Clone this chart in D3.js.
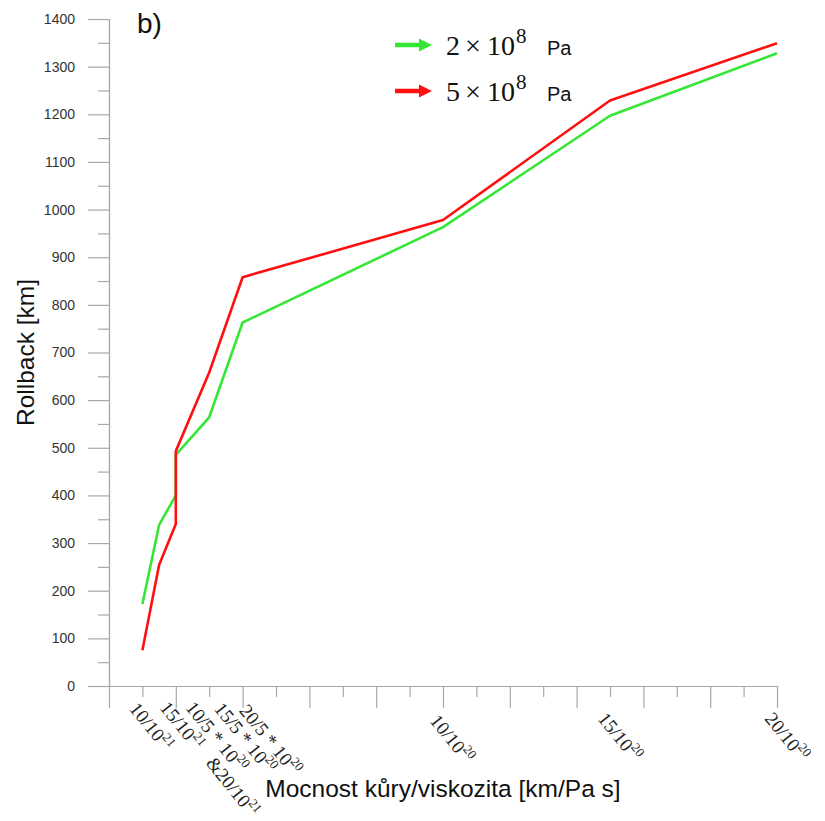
<!DOCTYPE html>
<html>
<head>
<meta charset="utf-8">
<script src="https://cdn.jsdelivr.net/npm/d3@7"></script>
<style>
  body { margin: 0; background: #fff; }
  svg { display: block; }
</style>
</head>
<body>
<svg id="chart" width="825" height="821"></svg>
<script>
// Crust thickness / viscosity, in units of 1e-20 km/(Pa s)
const xValues = [1, 1.5, 2, 2, 3, 4, 10, 15, 20];
// Rollback [km] for the two stress levels
const rollbackLow = [172, 338, 400, 485, 564, 763, 963, 1197, 1328];   // 2e8 Pa
const rollbackHigh = [75, 254, 340, 493, 658, 858, 978, 1229, 1349];   // 5e8 Pa

// Category tick positions and their labels (base text, superscript exponent)
const tickValues = [1, 1.5, 2, 3, 4, 10, 15, 20];
const tickLabels = [
  [["10/10", "21"]],
  [["15/10", "21"]],
  [["10/5 * 10", "20"], ["&20/10", "21"]],
  [["15/5 * 10", "20"]],
  [["20/5 * 10", "20"]],
  [["10/10", "20"]],
  [["15/10", "20"]],
  [["20/10", "20"]]
];
const seriesNames = [["2", "8"], ["5", "8"]];
const yMajor = d3.range(0, 1401, 100);
const yMinor = d3.range(50, 1400, 100);
const xMajor = d3.range(0, 21, 2);
const xMinor = d3.range(1, 20, 2);

const width = 825, height = 821;
const margin = { top: 19, right: 48, bottom: 135, left: 109 };
const colors = ["#36e636", "#ff1010"];
const axisColor = "#a8a8a8";

const svg = d3.select("#chart");
const x = d3.scaleLinear().domain([0, 20]).range([margin.left, width - margin.right]);
const y = d3.scaleLinear().domain([0, 1400]).range([height - margin.bottom, margin.top]);

function styleAxis(g) {
  g.select(".domain").attr("stroke", axisColor).attr("stroke-width", 1.2);
  g.selectAll(".tick line").attr("stroke", axisColor).attr("stroke-width", 1.2);
  g.selectAll(".tick text")
    .attr("fill", "#333")
    .style("font-family", "'Liberation Sans', Arial, sans-serif")
    .style("font-size", "14px");
}

// Y axis: minor ticks, then major ticks with labels
svg.append("g")
  .attr("transform", `translate(${x(0)},0)`)
  .call(d3.axisLeft(y).tickValues(yMinor).tickSize(11).tickSizeOuter(0).tickFormat(""))
  .call(styleAxis);
svg.append("g")
  .attr("transform", `translate(${x(0)},0)`)
  .call(d3.axisLeft(y).tickValues(yMajor).tickSize(21).tickSizeOuter(0).tickPadding(13).tickFormat(d3.format("d")))
  .call(styleAxis);

// X axis: ticks only, labels are drawn below as rotated text
svg.append("g")
  .attr("transform", `translate(0,${y(0)})`)
  .call(d3.axisBottom(x).tickValues(xMinor).tickSize(11).tickSizeOuter(0).tickFormat(""))
  .call(styleAxis);
svg.append("g")
  .attr("transform", `translate(0,${y(0)})`)
  .call(d3.axisBottom(x).tickValues(xMajor).tickSize(22).tickSizeOuter(0).tickFormat(""))
  .call(styleAxis);

// Rotated category labels; the crowded ones near the origin are spread apart
const labelShift = [[-14, 23], [0, 22], [9, 22], [4, 23], [-4, 25], [-14, 35], [-13, 33], [-13, 33]];
const labelAngle = 51;
tickValues.forEach((v, i) => {
  const g = svg.append("g")
    .attr("transform", `translate(${x(v) + labelShift[i][0]},${y(0) + labelShift[i][1]}) rotate(${labelAngle})`);
  tickLabels[i].forEach((line, j) => {
    const t = g.append("text")
      .attr("x", j * 56)
      .attr("y", j * 19)
      .attr("fill", "#222")
      .style("font-family", "'Liberation Serif', 'Times New Roman', serif")
      .style("font-size", "19px");
    t.append("tspan").text(line[0]);
    t.append("tspan").attr("dy", -8).style("font-size", "13px").text(line[1]);
  });
});

// Series lines
const line = d3.line()
  .x((d, i) => x(xValues[i]))
  .y(d => y(d));
[rollbackLow, rollbackHigh].forEach((vals, k) => {
  svg.append("path")
    .datum(vals)
    .attr("fill", "none")
    .attr("stroke", colors[k])
    .attr("stroke-width", 2.6)
    .attr("stroke-linejoin", "round")
    .attr("d", line);
});

// Legend with arrow markers
const legendRows = [45, 91];
seriesNames.forEach((name, k) => {
  const cy = legendRows[k];
  const g = svg.append("g");
  g.append("path")
    .attr("d", `M395,${cy - 2.2}H419V${cy - 6.5}L432,${cy}L419,${cy + 6.5}V${cy + 2.2}H395Z`)
    .attr("fill", colors[k]);
  const t = g.append("text")
    .attr("y", cy + 10)
    .attr("fill", "#111")
    .style("font-family", "'Liberation Serif', 'Times New Roman', serif")
    .style("font-size", "28px");
  t.append("tspan").attr("x", 446).text(name[0]);
  t.append("tspan").attr("x", 465).text("×");
  t.append("tspan").attr("x", 487).text("10");
  t.append("tspan").attr("x", 516).attr("dy", -12).style("font-size", "21px").text(name[1]);
  g.append("text")
    .attr("x", 547)
    .attr("y", cy + 10)
    .attr("fill", "#111")
    .style("font-family", "'Liberation Sans', Arial, sans-serif")
    .style("font-size", "20px")
    .text("Pa");
});

// Panel tag and axis titles
svg.append("text")
  .attr("x", 137).attr("y", 33)
  .style("font-family", "'Liberation Sans', Arial, sans-serif")
  .style("font-size", "28px")
  .attr("fill", "#111")
  .text("b)");

svg.append("text")
  .attr("transform", `translate(34,${(margin.top + height - margin.bottom) / 2})rotate(-90)`)
  .attr("text-anchor", "middle")
  .style("font-family", "'Liberation Sans', Arial, sans-serif")
  .style("font-size", "24.5px")
  .attr("fill", "#111")
  .text("Rollback [km]");

svg.append("text")
  .attr("x", 443).attr("y", 797)
  .attr("text-anchor", "middle")
  .style("font-family", "'Liberation Sans', Arial, sans-serif")
  .style("font-size", "24.5px")
  .attr("fill", "#111")
  .text("Mocnost kůry/viskozita [km/Pa s]");
</script>
</body>
</html>
